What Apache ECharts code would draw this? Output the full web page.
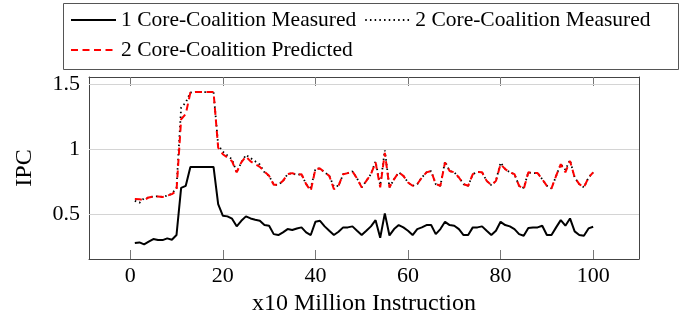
<!DOCTYPE html>
<html>
<head>
<meta charset="utf-8">
<script src="https://cdn.jsdelivr.net/npm/echarts@6/dist/echarts.min.js"></script>
<style>html,body{margin:0;padding:0;background:#fff}#c{width:679px;height:321px}</style>
</head>
<body>
<div id="c"></div>
<script>
const steps = [1,2,3,4,5,6,7,8,9,10,11,12,13,14,15,16,17,18,19,20,21,22,23,24,25,26,27,28,29,30,31,32,33,34,35,36,37,38,39,40,41,42,43,44,45,46,47,48,49,50,51,52,53,54,55,56,57,58,59,60,61,62,63,64,65,66,67,68,69,70,71,72,73,74,75,76,77,78,79,80,81,82,83,84,85,86,87,88,89,90,91,92,93,94,95,96,97,98,99,100];

const oneCoreMeasured = [0.274,0.279,0.264,0.285,0.305,0.297,0.297,0.31,0.30,0.336,0.70,0.716,0.862,0.862,0.862,0.862,0.862,0.862,0.575,0.485,0.48,0.462,0.403,0.446,0.48,0.464,0.454,0.446,0.413,0.408,0.343,0.336,0.357,0.382,0.375,0.387,0.395,0.357,0.336,0.438,0.446,0.403,0.369,0.336,0.361,0.395,0.395,0.403,0.369,0.336,0.369,0.403,0.451,0.315,0.503,0.333,0.382,0.413,0.395,0.369,0.336,0.382,0.395,0.413,0.413,0.343,0.382,0.438,0.413,0.408,0.382,0.336,0.336,0.395,0.395,0.403,0.369,0.336,0.369,0.438,0.413,0.403,0.382,0.343,0.33,0.39,0.395,0.395,0.408,0.336,0.336,0.395,0.451,0.408,0.464,0.364,0.336,0.33,0.387,0.40];

const twoCoreMeasured = [0.60,0.585,0.62,0.626,0.634,0.634,0.63,0.64,0.655,0.70,1.32,1.36,1.436,1.44,1.44,1.44,1.44,1.44,1.03,0.98,0.95,0.92,0.82,0.897,0.955,0.93,0.905,0.88,0.82,0.793,0.724,0.724,0.754,0.806,0.814,0.80,0.806,0.729,0.70,0.845,0.85,0.82,0.793,0.71,0.716,0.806,0.814,0.827,0.773,0.704,0.754,0.806,0.905,0.72,0.99,0.704,0.767,0.82,0.793,0.742,0.716,0.729,0.78,0.82,0.83,0.729,0.716,0.905,0.83,0.82,0.78,0.729,0.716,0.806,0.824,0.82,0.754,0.721,0.754,0.895,0.845,0.82,0.806,0.716,0.70,0.82,0.814,0.814,0.767,0.716,0.696,0.793,0.883,0.84,0.915,0.78,0.729,0.704,0.78,0.82];

const twoCorePredicted = [0.615,0.613,0.605,0.626,0.634,0.634,0.63,0.64,0.652,0.677,1.23,1.27,1.436,1.44,1.44,1.44,1.44,1.44,1.01,0.96,0.935,0.905,0.82,0.897,0.942,0.905,0.883,0.862,0.825,0.793,0.724,0.724,0.754,0.806,0.814,0.80,0.806,0.729,0.677,0.845,0.85,0.82,0.793,0.69,0.716,0.806,0.814,0.827,0.773,0.704,0.754,0.806,0.897,0.704,0.97,0.704,0.767,0.82,0.793,0.742,0.716,0.729,0.78,0.82,0.83,0.729,0.716,0.897,0.83,0.82,0.78,0.729,0.716,0.806,0.824,0.82,0.754,0.721,0.754,0.883,0.845,0.82,0.806,0.716,0.69,0.82,0.814,0.814,0.767,0.716,0.696,0.793,0.883,0.82,0.908,0.78,0.729,0.704,0.78,0.82];

const seriesNames = ['1 Core-Coalition Measured','2 Core-Coalition Measured','2 Core-Coalition Predicted'];
const xTicks = [0,20,40,60,80,100];
const yTicks = [0.5,1,1.5];
const xTitle = 'x10 Million Instruction';
const yTitle = 'IPC';

const pairs = vals => steps.map((s,i)=>[s, vals[i]]);
const serif = 'Liberation Serif';
const axisCol = '#444';

const chart = echarts.init(document.getElementById('c'), null, {renderer:'canvas'});
chart.setOption({
  animation: false,
  backgroundColor: '#fff',
  graphic: [{
    type: 'rect', left: 61, top: 1, shape: {width: 615, height: 66},
    style: {fill: 'none', stroke: '#555', lineWidth: 1}, z: 0
  }],
  legend: {
    left: 70, top: 9, width: 600,
    itemWidth: 45, itemHeight: 14, itemGap: 8,
    padding: 0,
    itemStyle: {opacity: 0},
    textStyle: {fontFamily: serif, fontSize: 21.5, color: '#000', padding:[0,0,0,0]},
    data: seriesNames
  },
  grid: {left: 89, right: 40, top: 77, bottom: 61, containLabel: false},
  xAxis: [{
    type: 'value', min: -8.9, max: 109.9, position: 'bottom',
    name: xTitle, nameLocation: 'middle', nameGap: 33,
    nameTextStyle: {fontFamily: serif, fontSize: 24, color: '#000'},
    axisLine: {show: true, onZero: false, lineStyle: {color: axisCol, width: 1}},
    axisTick: {show: true, inside: true, length: 9, customValues: xTicks, lineStyle: {color: '#777'}},
    axisLabel: {customValues: xTicks, fontFamily: serif, fontSize: 22, color: '#000', margin: 6},
    splitLine: {show: false}
  },{
    type: 'value', min: -8.9, max: 109.9, position: 'top',
    axisLine: {show: true, onZero: false, lineStyle: {color: axisCol, width: 1}},
    axisTick: {show: true, inside: true, length: 9, customValues: xTicks, lineStyle: {color: '#777'}},
    axisLabel: {show: false},
    splitLine: {show: false}
  }],
  yAxis: [{
    type: 'value', min: 0.151, max: 1.556, position: 'left',
    name: yTitle, nameLocation: 'middle', nameGap: 52, nameRotate: 90,
    nameTextStyle: {fontFamily: serif, fontSize: 24, color: '#000'},
    axisLine: {show: true, onZero: false, lineStyle: {color: axisCol, width: 1}},
    axisTick: {show: true, inside: true, length: 9, customValues: yTicks, lineStyle: {color: '#777'}},
    axisLabel: {customValues: yTicks, fontFamily: serif, fontSize: 22, color: '#000', margin: 9},
    splitLine: {show: false}
  },{
    type: 'value', min: 0.151, max: 1.556, position: 'right',
    axisLine: {show: true, onZero: false, lineStyle: {color: axisCol, width: 1}},
    axisTick: {show: true, inside: true, length: 9, customValues: yTicks, lineStyle: {color: '#777'}},
    axisLabel: {show: false},
    splitLine: {show: false}
  }],
  series: [{
    name: seriesNames[0], type: 'line', data: pairs(oneCoreMeasured),
    xAxisIndex: 0, yAxisIndex: 0,
    symbol: 'none', lineStyle: {color: '#000', width: 2}, itemStyle: {color: '#000'},
    z: 3,
    markLine: {
      silent: true, symbol: 'none', label: {show: false},
      lineStyle: {color: '#d4d4d4', type: 'solid', width: 1},
      data: yTicks.map(v => ({yAxis: v})),
      z: 1
    }
  },{
    name: seriesNames[1], type: 'line', data: pairs(twoCoreMeasured),
    xAxisIndex: 0, yAxisIndex: 0,
    symbol: 'none', lineStyle: {color: '#000', width: 1.8, type: [1.5, 3.2]}, itemStyle: {color: '#000'},
    z: 4
  },{
    name: seriesNames[2], type: 'line', data: pairs(twoCorePredicted),
    xAxisIndex: 0, yAxisIndex: 0,
    symbol: 'none', lineStyle: {color: '#ff0000', width: 2, type: [7, 4.5]}, itemStyle: {color: '#ff0000'},
    z: 5
  }]
});
</script>
</body>
</html>
